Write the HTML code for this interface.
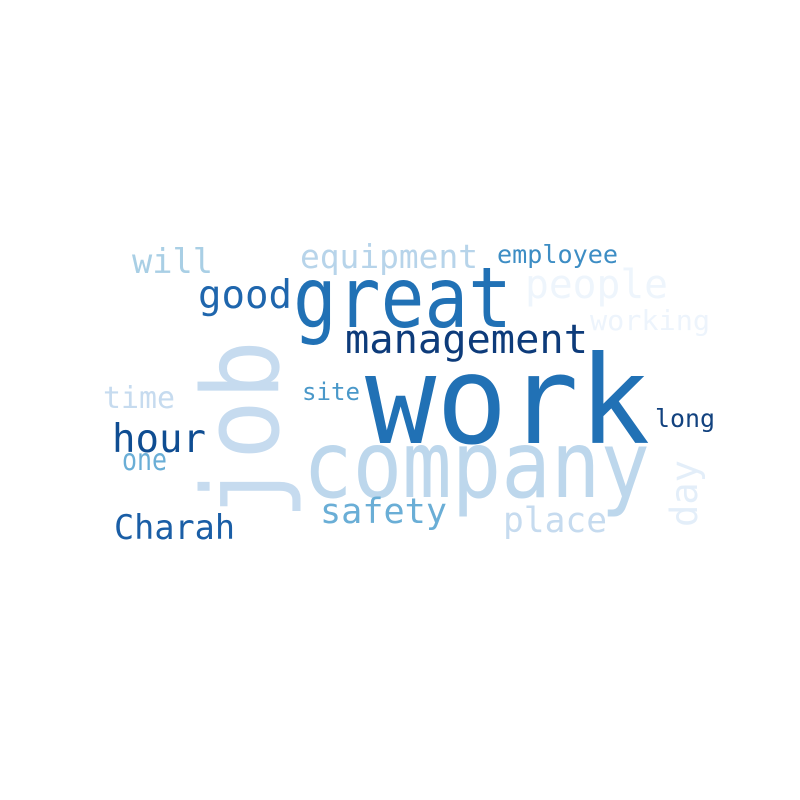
<!DOCTYPE html>
<html><head><meta charset="utf-8"><style>
html,body{margin:0;padding:0;background:#fff;width:800px;height:800px;overflow:hidden}
svg text{font-family:"DejaVu Sans Mono","Liberation Mono",monospace}
</style></head><body>
<svg width="800" height="800" viewBox="0 0 800 800">
<rect width="800" height="800" fill="#fff"/>
<text x="365" y="443" font-size="122" fill="#2171b5" textLength="285" lengthAdjust="spacingAndGlyphs">work</text>
<text x="303" y="497" font-size="93" fill="#bdd7ec" textLength="347" lengthAdjust="spacingAndGlyphs">company</text>
<text x="293" y="327" font-size="84" fill="#2171b5" textLength="219" lengthAdjust="spacingAndGlyphs">great</text>
<text transform="translate(278,520) rotate(-90)" x="0" y="0" font-size="106" fill="#c6dbef" textLength="180" lengthAdjust="spacingAndGlyphs">job</text>
<text x="345" y="353" font-size="40" fill="#0d3b7a" textLength="243" lengthAdjust="spacingAndGlyphs">management</text>
<text x="198" y="308" font-size="39" fill="#1f66ad" textLength="94" lengthAdjust="spacingAndGlyphs">good</text>
<text x="300" y="268" font-size="33" fill="#b7d4ea" textLength="178" lengthAdjust="spacingAndGlyphs">equipment</text>
<text x="497" y="263" font-size="25" fill="#3d8dc4" textLength="121" lengthAdjust="spacingAndGlyphs">employee</text>
<text x="132" y="273" font-size="34" fill="#a9cfe5" textLength="81" lengthAdjust="spacingAndGlyphs">will</text>
<text x="525" y="298" font-size="40" fill="#eef5fc" textLength="143" lengthAdjust="spacingAndGlyphs">people</text>
<text x="590" y="330" font-size="28" fill="#edf4fc" textLength="120" lengthAdjust="spacingAndGlyphs">working</text>
<text x="103" y="408" font-size="30" fill="#c6dbef" textLength="72" lengthAdjust="spacingAndGlyphs">time</text>
<text x="302" y="400" font-size="24" fill="#4a98c9" textLength="58" lengthAdjust="spacingAndGlyphs">site</text>
<text x="112" y="452" font-size="39" fill="#0f4d92" textLength="94" lengthAdjust="spacingAndGlyphs">hour</text>
<text x="122" y="470" font-size="30" fill="#6aaed6" textLength="45" lengthAdjust="spacingAndGlyphs">one</text>
<text x="655" y="427" font-size="25" fill="#12427f" textLength="60" lengthAdjust="spacingAndGlyphs">long</text>
<text x="320" y="523" font-size="35" fill="#6aaed6" textLength="127" lengthAdjust="spacingAndGlyphs">safety</text>
<text x="503" y="532" font-size="35" fill="#c6dbef" textLength="104" lengthAdjust="spacingAndGlyphs">place</text>
<text x="114" y="539" font-size="34" fill="#1a5ea6" textLength="121" lengthAdjust="spacingAndGlyphs">Charah</text>
<text transform="translate(697,527) rotate(-90)" x="0" y="0" font-size="37" fill="#e3eef9" textLength="67" lengthAdjust="spacingAndGlyphs">day</text>
</svg>
</body></html>
